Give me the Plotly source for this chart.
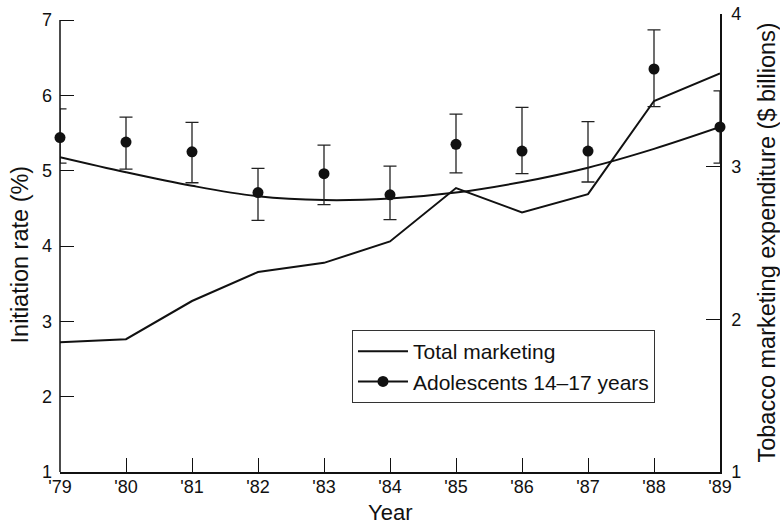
import plotly.graph_objects as go

# Survey years and tick labels
years = [1979, 1980, 1981, 1982, 1983, 1984, 1985, 1986, 1987, 1988, 1989]
year_labels = ["'79", "'80", "'81", "'82", "'83", "'84", "'85", "'86", "'87", "'88", "'89"]

# Initiation rate among adolescents 14-17 years (%), with 95% limits
adolescent_rate = [5.44, 5.38, 5.25, 4.71, 4.96, 4.68, 5.35, 5.26, 5.26, 6.35, 5.58]
adolescent_upper = [5.82, 5.71, 5.64, 5.03, 5.34, 5.06, 5.75, 5.84, 5.65, 6.87, 6.06]
adolescent_lower = [5.10, 5.02, 4.84, 4.34, 4.55, 4.35, 4.97, 4.96, 4.85, 5.85, 5.10]

# Smoothed trend of the adolescent initiation rate (%)
adolescent_trend = [5.18, 4.98, 4.80, 4.66, 4.61, 4.63, 4.71, 4.85, 5.04, 5.29, 5.58]

# Total tobacco marketing expenditure ($ billions)
marketing = [1.85, 1.87, 2.12, 2.31, 2.37, 2.51, 2.86, 2.70, 2.82, 3.43, 3.61]

INK = "#111111"
FONT = "Liberation Sans, Arial, Helvetica, sans-serif"
TICK_FS = 18
TITLE_FS = 22
SIDE_TITLE_FS = 23.5
LEGEND_FS = 21

err_plus = [u - v for u, v in zip(adolescent_upper, adolescent_rate)]
err_minus = [v - l for v, l in zip(adolescent_rate, adolescent_lower)]

fig = go.Figure()

# Marketing expenditure on the right axis
fig.add_trace(go.Scatter(
    x=years, y=marketing, yaxis="y2", mode="lines", name="Total marketing",
    line=dict(color=INK, width=2), cliponaxis=False,
))

# Trend curve for adolescents
fig.add_trace(go.Scatter(
    x=years, y=adolescent_trend, mode="lines", showlegend=False,
    line=dict(color=INK, width=2, shape="spline", smoothing=1.0), cliponaxis=False,
))

# Observed rates with error bars
fig.add_trace(go.Scatter(
    x=years, y=adolescent_rate, mode="markers", showlegend=False,
    marker=dict(color=INK, size=11),
    error_y=dict(type="data", symmetric=False, array=err_plus, arrayminus=err_minus,
                 color="#222222", thickness=1.3, width=6.5),
    cliponaxis=False,
))

# Legend key for the adolescent series (line with dot)
fig.add_trace(go.Scatter(
    x=[None], y=[None], mode="lines+markers", name="Adolescents 14\u201317 years",
    line=dict(color=INK, width=2), marker=dict(color=INK, size=11),
))

# Left axis line drawn from 1 to 7 only
fig.add_shape(type="line", xref="paper", yref="y", x0=0, x1=0, y0=1, y1=7,
              line=dict(color=INK, width=1.5))

# Axis titles
fig.add_annotation(text="Year", xref="paper", yref="paper", x=0.5, y=-0.088,
                   xanchor="center", yanchor="middle", showarrow=False,
                   font=dict(size=TITLE_FS))
fig.add_annotation(text="Initiation rate (%)", xref="paper", yref="paper",
                   x=-0.0606, y=0.475, xanchor="center", yanchor="middle",
                   textangle=-90, showarrow=False, font=dict(size=SIDE_TITLE_FS))
fig.add_annotation(text="Tobacco marketing expenditure ($ billions)", xref="paper",
                   yref="paper", x=1.0705, y=0.50, xanchor="center", yanchor="middle",
                   textangle=-90, showarrow=False, font=dict(size=SIDE_TITLE_FS))

fig.update_layout(
    width=780, height=526,
    margin=dict(l=60, r=60, t=14, b=54),
    paper_bgcolor="white", plot_bgcolor="white",
    font=dict(family=FONT, size=TICK_FS, color=INK),
    showlegend=True,
    legend=dict(
        x=0.4424, y=0.31, xref="paper", yref="paper", xanchor="left", yanchor="top",
        bordercolor="#333333", borderwidth=1, bgcolor="white",
        font=dict(family=FONT, size=LEGEND_FS, color=INK),
        tracegroupgap=0, itemwidth=50,
    ),
    xaxis=dict(
        range=[1979, 1989], tickmode="array", tickvals=years, ticktext=year_labels,
        ticks="inside", ticklen=14, tickwidth=1.2, tickcolor=INK,
        showline=True, linecolor=INK, linewidth=1.5, showgrid=False, zeroline=False,
        automargin=False, ticklabelstandoff=-2,
        tickfont=dict(size=TICK_FS),
    ),
    yaxis=dict(
        range=[1, 7.08], tickmode="array", tickvals=[1, 2, 3, 4, 5, 6, 7],
        ticks="inside", ticklen=14, tickwidth=1.2, tickcolor=INK,
        showline=False, showgrid=False, zeroline=False,
        automargin=False, ticklabelstandoff=7,
        tickfont=dict(size=TICK_FS),
    ),
    yaxis2=dict(
        range=[1, 4], overlaying="y", side="right", tickmode="array", tickvals=[1, 2, 3, 4],
        ticks="inside", ticklen=14, tickwidth=1.2, tickcolor=INK,
        showline=True, linecolor=INK, linewidth=1.5, showgrid=False, zeroline=False,
        automargin=False, ticklabelstandoff=6,
        tickfont=dict(size=TICK_FS),
    ),
)

fig.write_html("out.html")
